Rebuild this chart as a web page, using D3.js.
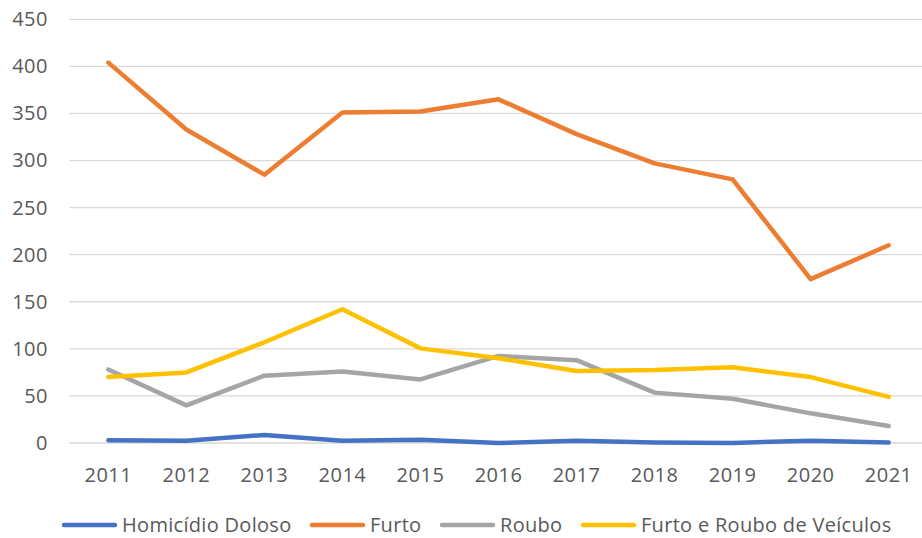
<!DOCTYPE html>
<html><head><meta charset="utf-8">
<script src="https://cdn.jsdelivr.net/npm/d3@7"></script>
<style>
html,body{margin:0;padding:0;background:#fff;}
svg{display:block;font-family:"Open Sans",sans-serif;}
</style></head>
<body>
<svg id="chart" width="922" height="538"></svg>
<script>
const years = ["2011","2012","2013","2014","2015","2016","2017","2018","2019","2020","2021"];
const homicidio = [3, 2.5, 8.5, 2.5, 3.5, 0, 2.5, 0.5, 0, 2.5, 0.5];
const furto = [404, 333, 285, 351, 352, 365, 328, 297, 280, 174, 210];
const roubo = [78, 40, 71.5, 76, 67.5, 92.5, 88, 53.5, 47, 31.5, 18];
const veiculos = [70, 75, 107, 142, 100.5, 90, 76.5, 77.5, 80.5, 70, 49];
const seriesNames = ["Homicídio Doloso", "Furto", "Roubo", "Furto e Roubo de Veículos"];
const seriesColors = ["#4472C4", "#ED7D31", "#A5A5A5", "#FFC000"];
const yTicks = [0, 50, 100, 150, 200, 250, 300, 350, 400, 450];

const series = [homicidio, furto, roubo, veiculos].map((v, i) => ({name: seriesNames[i], color: seriesColors[i], values: v}));

const svg = d3.select("#chart");
const mLeft = 69.3, mRight = 927.7, mTop = 19.3, mBottom = 443;

const x = d3.scaleBand().domain(years).range([mLeft, mRight]);
const y = d3.scaleLinear().domain([0, 450]).range([mBottom, mTop]);

// gridlines
svg.append("g").selectAll("line").data(yTicks).join("line")
  .attr("x1", mLeft).attr("x2", 922)
  .attr("y1", d => y(d)).attr("y2", d => y(d))
  .attr("stroke", "#D9D9D9").attr("stroke-width", 1.3);

// y axis labels
const yAxis = d3.axisLeft(y).tickValues(yTicks).tickSize(0).tickPadding(0);
const gy = svg.append("g").attr("transform", `translate(48,0)`).call(yAxis);
gy.select(".domain").remove();
gy.selectAll("text").attr("fill", "#595959").style("font-size", "20px")
  .style("letter-spacing", "0.5px").style("font-family", "'Open Sans',sans-serif");

// x axis labels
const xAxis = d3.axisBottom(x).tickSize(0).tickPadding(0);
const gx = svg.append("g").attr("transform", `translate(0,468)`).call(xAxis);
gx.select(".domain").remove();
gx.selectAll("text").attr("fill", "#595959").style("font-size", "20px")
  .style("letter-spacing", "0.5px").style("font-family", "'Open Sans',sans-serif");

// lines
const line = d3.line().x((d, i) => x(years[i]) + x.bandwidth() / 2).y(d => y(d));
svg.append("g").selectAll("path").data(series).join("path")
  .attr("d", d => line(d.values))
  .attr("fill", "none").attr("stroke", d => d.color)
  .attr("stroke-width", 4.5).attr("stroke-linejoin", "round").attr("stroke-linecap", "round");

// legend
const legX = [62, 310, 440, 581];
const lg = svg.append("g");
series.forEach((s, i) => {
  const g = lg.append("g").attr("transform", `translate(${legX[i]},525)`);
  g.append("line").attr("x1", 2).attr("x2", 53).attr("y1", 0).attr("y2", 0)
    .attr("stroke", s.color).attr("stroke-width", 4.5).attr("stroke-linecap", "round");
  g.append("text").attr("x", 60).attr("y", 0).attr("dy", "0.35em")
    .attr("fill", "#595959").style("font-size", "20px").style("letter-spacing", "0.3px").text(s.name);
});
</script>
</body></html>
